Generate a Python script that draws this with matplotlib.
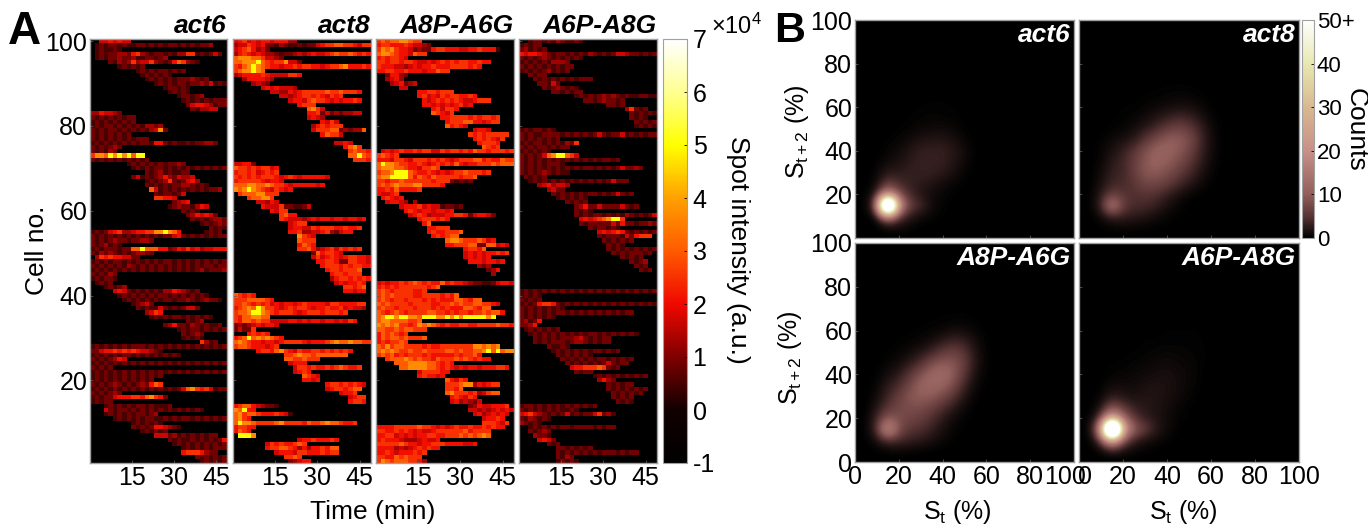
import matplotlib
matplotlib.use("Agg")
import matplotlib.pyplot as plt
import numpy as np
from matplotlib.colors import LinearSegmentedColormap
from matplotlib.transforms import ScaledTranslation

plt.rcParams["font.family"] = ["Liberation Sans", "DejaVu Sans"]
plt.rcParams["mathtext.fontset"] = "custom"
plt.rcParams["mathtext.rm"] = "Liberation Sans"
plt.rcParams["mathtext.it"] = "Liberation Sans"

W, H = 1368, 526

# one char per 1.5 min bin, top row is cell 100, "." = no spot, digit = index into digit_levels
digit_levels = [0, 0.5, 0.9, 1.3, 1.7, 2.1, 2.5, 3.0, 3.7, 5.0]

act6_rows = [
    "..4454544", ".12122121122121212212121223", ".121121", ".1212233256321221213366121242",
    ".1212232231122123", "....21323634463212576321", "......121212", "..........12121221212",
    "...........1212121", "............12121212223212", "..............1212122122324121",
    "................122121", ".................12121", "...................122123",
    "....................1212121222", ".....................2455431221", "......................213344",
    "3354432", "2121212122", "1212121212", "1212212121213323", "21212212121213482", "212121212",
    "2121212121222", "1212121212122155212112122332", "2121232", "212132", "688798989799", "2121212121212",
    "........1212121212232", ".........1212122121212121212121", "............2123121122",
    ".........24121235324334", "............121236212453", "............21212122332121",
    ".............7412121212121223", "..............2122124", "..............66554",
    "..................2345", ".................123221354", "....................2121",
    ".....................2354542", "......................21212332", "........................121232",
    "..........................2121", "12124563345566889875.....1212", "212121212121212122452121212122",
    "21212322122332", "2123121", "12122212277977755235464534455541", "21323212123322",
    ".3656554422", "121212212121212122121212121212", "212121213212121212121212122122",
    "121212121212121212121212312223", "212132", "121221", ".1212", "...12123",
    ".....4542121212133543212", "......12121212122121212121", ".......1212121212212232123221",
    ".........12342", "..........21211421212442", "............3465", ".............12121221212121",
    ".....................2123", "................2352213212112", "...................12122121212",
    "....................21232", "....................12121", "........................6312",
    "121212121222121212121212121212", "2245565656544321", "12121212212121212121", "21212354",
    "121212121212121212121212121212", "21212", "121212121212121212121212121212", "1212121212121212",
    "12121212121212", "2121232121232576", "121212121212121212124786564122", "2121232",
    "12122455566578652", "12122", "...121212122121112", "...4212212121212121212121",
    "...121212122123", ".....1212121221121212212121212", ".........1212121", ".........21212554321",
    "...........121212", "..............44423121212122", ".................2121121212125",
    "..................121212121212", "....................1212121222", "....................56665322",
    ".......................2121212", "........................121212",
]
act8_rows = [
    "45645455455533", "344654522132112122456677665466", "45675342", "356545433212234345445676676565",
    "78887764432", "778889765668442", "657898765545565665545667855565", "6788987", "345555654444665",
    "..3555543", "....3432", "......45454443", "........44335456666676676665", "..........44345665654656",
    "............4554676654545565", "..............5666", "................7864", "................556242323344",
    "................4543", "...................5464", ".................3565666", ".................466677232337",
    "...................57664", "..................", "......................4454",
    "........................5786", ".........................67665", ".........................77976",
    "..........................6665", "44552", "7665656645", "5665645656", "656565666545654555554",
    "56666654554", "77788778766545555545", "8789876546545", ".677788666", "...677886", ".....44354",
    "......54446221124", "........5466", "..........6755", "..........6544434545545545545",
    "............4566", "............4554465666556556", "............55633445632455",
    "..............8654", "..............7666", "..............5765", "..............66753456465656",
    ".................2756654", ".................46456545665543", "..................556652266554",
    "...................56665656655", "....................56656667", ".....................5665666",
    ".....................3566565655", "......................4545565", "........................66567",
    "........................55455", "76565", "666777765", "66765656454554565555466555566",
    "56787986654565665455655645443", "6778998765666545666566656", "65778877", "657767664444554545545545465",
    "2323454554", "24226", "...56565", "56797878765", "787655455456666545556787787766",
    "6776555456", ".....566578654655665656565", "...........66787767777777",
    "...........77667666", "............4555", ".............466565565676556",
    ".............4565", "...............7654", "...............5545", "....................566565654",
    "....................45665677", ".......................4556", ".........................4566",
    ".........................5665",
    "5677543221", "87955", "7867765556541", "7865", "798876666786666576678776556",
    "56655", "5765", ".9998", "..............455655565", ".......465655676",
    ".......5667765353556577", ".........45554665556566", "...........6676", "............23455",
]
a8p_rows = [
    "6767788766", "566555654432", "687865542322566555445565551", "78876554766", "5656654",
    "6656656654454565656655655", "65554434545565556666565", "5566556555455766", "..25532",
    "..3453", "...345234", ".....44", ".........55665666", ".........5645465665565",
    "..........545656565445666", "..........55454545645", "............564665", "............76546",
    "..............5566665656656", "...............566677554566", "...............75654",
    ".....................4554", "....................656566666", ".....................5656546",
    "......................56665", ".......................7656", ".454565565664465665657665666566",
    "67656", "555466546665656545666775655766", "798876655654565657545566676777",
    "78887765546676", "6778999765565454566766656", "7889999757657666665667", "665667666666566621212",
    "676787778866665", "5565755556", "54456", ".56545", "..45543.3", ".....45556454412212",
    "......56545545545", ".......4565344455665245542",
    ".........5666565", "..........57", "...........55666", "...........56556667", "............565677",
    "...............78876667645", "...............55666772277454", "...................56657",
    "...................4545455656", "...................454545", "....................55545545",
    "......................323", "........................235", ".........................3",
    "", "454556567656557565543221124554", "56565666666567", "67656666556", "676766665566665657",
    "67656656665656555776577", "767666656666556676766776654", "6766566656665656555776577",
    "7656765666677665656656676775", "78998998879998898989999989", "7887777667",
    "878786656878765655665566667665", "77667677666", "5767656", "57677676667", "5656676",
    "768677666656556666666887878", "787876676676666776766778979788", "67675656665655555656675",
    "..67778767665766676765655", "....7778888776565", ".....778888776565454554555665",
    ".........4666655", ".........565545", "...............75465", "...............666788354566",
    "...............6657", "...............786665634677", "................565465",
    "................4534324", "....................235445556", "....................44343454545",
    ".....................45345454", ".......................45565", ".......................666546",
    "5555666667665454565565565655", "6655656545445666666756666", "5566454545566556667676787",
    "56555433345445", "6666676554556665555445", "55553434565655", "55654555656", "6655767666",
    "68767776653", "656567654545543",
]
a6p_rows = [
    "..122121321121", "12122", "231212", "545543212212121321212443221212", "21212321212121",
    "12121213332", "212121212122", "12121231212", "..2122", "...2121212121222",
    "....22142", ".....21232121", ".......2212122", "............121212323212112211", "..............221232212",
    "...................2212", ".......................36212", "........................212121", "........................2121",
    ".........................21212", ".........................12121", "12122121", "212112222121212124212241212122",
    "212121212", "1212212121326", "21212212122", "1212121", "2121247899764", "2121212121212121212212",
    "2121212221", "212121212121212212121242232", "21212321211", ".21212", "..1212121212121212124222",
    "....3453443", "......3422", ".......212121212212124212",
    "........1212121", "..........21212", "............23522422224212",
    "............2121", "............212122121213212124", ".............4545678996",
    ".............21222224252212232", "...............2122121", ".................45456521212124",
    ".................212221425666", "..................2121212", "...................2121",
    "...................21212121212", "....................212122212", "......................21212",
    "........................2123", ".........................212", "..........................212",
    "", "", "", "", "121212121212121212121212121212", "12121", "21212", "121256652121212121212121212121",
    "2121212121", "2121212122121212121212122", "21212121", "23125", "2235", ".12121212",
    "..121212121212122121212121", "...21212122234212122", "...21212221233212122", "......21121",
    ".......121212121221212", "........21212121", ".........2121212122121212",
    "..........21212121242122", "...........45566676212", "............2122", "................121212121212",
    ".................3532", "...................212122", "...................212121212", "....................2121212",
    "....................21212", ".....................2121", "12212121212121212", "2121212121121", "456432121241212246231",
    "2132121", "32121", "..1212121221222212122", "..21232", "...3221", "....4542", "......212",
    "........22121212", "........212121212122212122", "........2132", "........12121",
]

# counts on a 5 % grid, rows St+2 = 0..70, columns St = 0..70
act6_counts = [
    [0] * 15,
    [0, 0, 0, 0.5, 1, 0.5, 0, 0, 0, 0, 0, 0, 0, 0, 0],
    [0, 0, 1, 14, 5, 2.5, 1, 0.5, 0.2, 0, 0, 0, 0, 0, 0],
    [0, 0.3, 7, 130, 20, 6, 4, 1, 0.4, 0, 0, 0, 0, 0, 0],
    [0, 0, 3, 18, 8, 4, 2, 1, 0.6, 0.2, 0, 0, 0, 0, 0],
    [0, 0, 1, 6, 4, 3, 2.5, 2, 1, 0.5, 0.2, 0, 0, 0, 0],
    [0, 0, 0.5, 2.5, 2.5, 3, 3, 3, 2.5, 1.5, 0.4, 0, 0, 0, 0],
    [0, 0, 0.2, 1, 1.5, 2.5, 3, 3, 3, 2, 0.8, 0.1, 0, 0, 0],
    [0, 0, 0, 0.5, 1, 2, 3, 3, 3, 2.2, 1.2, 0.1, 0, 0, 0],
    [0, 0, 0, 0.2, 0.5, 1, 1.8, 2, 2.2, 1.5, 0.5, 0.1, 0, 0, 0],
    [0, 0, 0, 0, 0.2, 0.4, 0.8, 1, 1, 0.8, 0.2, 0, 0, 0, 0],
    [0, 0, 0, 0, 0, 0.2, 0.3, 0.5, 0.4, 0.3, 0.1, 0.1, 0, 0, 0],
    [0, 0, 0, 0, 0, 0.1, 0.2, 0.3, 0.2, 0.2, 0.1, 0.1, 0.1, 0, 0],
    [0, 0, 0, 0, 0, 0, 0.1, 0.1, 0.2, 0.1, 0.2, 0.1, 0, 0, 0],
    [0, 0, 0, 0, 0, 0, 0, 0.1, 0.1, 0.1, 0.1, 0.1, 0, 0, 0],
]
act8_counts = [
    [0] * 15,
    [0, 0, 0.1, 0.4, 0.5, 0.5, 0.3, 0.2, 0.1, 0, 0, 0, 0, 0, 0],
    [0, 0, 1, 3, 3, 2.5, 2, 1.2, 0.5, 0.2, 0, 0, 0, 0, 0],
    [0, 0.1, 3, 16, 6, 4, 4, 3, 1.5, 0.6, 0.1, 0, 0, 0, 0],
    [0, 0, 2.5, 6, 5, 4.5, 5, 4.5, 3, 1.5, 0.5, 0.1, 0, 0, 0],
    [0, 0, 1.5, 3.5, 4, 5, 7, 7, 6, 4, 2.5, 1, 0.2, 0, 0],
    [0, 0, 1, 3, 3.5, 6, 9, 9.5, 8, 6, 4, 2, 0.5, 0, 0],
    [0, 0, 0.5, 2.5, 3.5, 6, 9, 11, 10, 8, 5.5, 3, 0.8, 0.1, 0],
    [0, 0, 0.5, 1.5, 3, 5, 8, 11, 11, 9.5, 7, 3.5, 1.2, 0.1, 0],
    [0, 0, 0.2, 1, 1.5, 2.5, 5, 7.5, 10, 10, 8, 4, 1.2, 0.1, 0],
    [0, 0, 0, 0.3, 0.5, 1.2, 2.5, 4, 6, 7, 6, 3.5, 1, 0.1, 0],
    [0, 0, 0, 0.1, 0.3, 0.5, 1, 2, 3, 4, 3.5, 2, 0.5, 0.1, 0],
    [0, 0, 0, 0.1, 0.2, 0.2, 0.4, 0.8, 1.2, 1.5, 1.5, 0.8, 0.2, 0, 0],
    [0, 0, 0, 0, 0.1, 0.1, 0.2, 0.3, 0.4, 0.6, 0.5, 0.3, 0.1, 0, 0],
    [0, 0, 0, 0, 0, 0, 0.1, 0.1, 0.2, 0.2, 0.2, 0.1, 0, 0.1, 0],
]
a8p_counts = [
    [0] * 15,
    [0, 0, 0.1, 0.3, 0.4, 0.4, 0.2, 0.1, 0, 0, 0, 0, 0, 0, 0],
    [0, 0.1, 1.5, 4, 4, 3, 2.5, 1.5, 0.8, 0.2, 0, 0, 0, 0, 0],
    [0, 0.2, 4, 22, 8, 5, 4.5, 3, 1.5, 0.5, 0.1, 0, 0, 0, 0],
    [0, 0.1, 3.5, 9, 8, 7, 6, 4.5, 2.5, 1, 0.3, 0, 0, 0, 0],
    [0, 0, 2, 5, 7, 8, 8, 6.5, 4.5, 2.5, 0.8, 0.1, 0, 0, 0],
    [0, 0, 1, 3.5, 6, 9, 10, 9.5, 7.5, 5, 2, 0.3, 0, 0, 0],
    [0, 0, 0.5, 2.5, 4, 7, 11, 12, 11, 7.5, 3.5, 0.8, 0.1, 0, 0],
    [0, 0, 0.2, 1.2, 2.5, 5, 8, 11.5, 13, 9.5, 5, 1.5, 0.2, 0, 0],
    [0, 0, 0.1, 0.5, 1, 2.5, 4.5, 7.5, 9.5, 9, 6, 2, 0.3, 0, 0],
    [0, 0, 0, 0.2, 0.4, 1, 2, 3.5, 5.5, 6.5, 5, 1.8, 0.3, 0, 0],
    [0, 0, 0, 0.1, 0.2, 0.3, 0.6, 1.2, 2.5, 3.5, 3, 1.2, 0.2, 0, 0],
    [0, 0, 0, 0, 0.1, 0.1, 0.2, 0.4, 0.6, 1.2, 1, 0.5, 0.1, 0, 0],
    [0, 0, 0, 0, 0, 0.1, 0.1, 0.1, 0.2, 0.3, 0.3, 0.2, 0, 0, 0],
    [0, 0, 0, 0.1, 0, 0, 0, 0.1, 0.1, 0.1, 0.1, 0, 0, 0, 0],
]
a6p_counts = [
    [0] * 15,
    [0, 0, 0.3, 1.5, 1, 0.5, 0.2, 0.1, 0, 0, 0, 0, 0, 0, 0],
    [0, 0.1, 5, 24, 8, 3, 1.5, 0.8, 0.3, 0, 0, 0, 0, 0, 0],
    [0, 0.6, 16, 145, 26, 10, 6, 2.5, 1, 0.2, 0, 0, 0, 0, 0],
    [0, 0.2, 5, 26, 12, 5, 3, 2, 1, 0.4, 0.1, 0, 0, 0, 0],
    [0, 0, 1.5, 8, 5, 3, 2.2, 1.8, 1.2, 0.6, 0.2, 0, 0, 0, 0],
    [0, 0, 0.5, 2.5, 2, 1.5, 2, 2, 1.5, 1, 0.4, 0.1, 0, 0, 0],
    [0, 0, 0.2, 1, 1, 1, 1.5, 1.8, 1.5, 1.2, 0.6, 0.2, 0, 0, 0],
    [0, 0, 0, 0.4, 0.5, 0.8, 1, 1.2, 1.5, 1, 0.8, 0.2, 0, 0, 0],
    [0, 0, 0, 0.2, 0.2, 0.4, 0.6, 0.8, 1, 0.8, 0.6, 0.3, 0.1, 0, 0],
    [0, 0, 0, 0.1, 0.1, 0.2, 0.3, 0.5, 0.6, 0.5, 0.4, 0.3, 0.1, 0, 0],
    [0, 0, 0, 0, 0, 0.1, 0.2, 0.2, 0.3, 0.3, 0.3, 0.2, 0.1, 0, 0],
    [0, 0, 0, 0, 0, 0, 0.1, 0.1, 0.2, 0.2, 0.2, 0.2, 0.1, 0, 0],
    [0, 0, 0, 0, 0, 0, 0, 0.1, 0.1, 0.1, 0.1, 0.1, 0.1, 0, 0],
    [0, 0, 0, 0, 0, 0, 0, 0, 0.1, 0, 0.1, 0.1, 0, 0, 0],
]

strains = ["act6", "act8", "A8P-A6G", "A6P-A8G"]
all_rows = [act6_rows, act8_rows, a8p_rows, a6p_rows]
all_counts = [act6_counts, act8_counts, a8p_counts, a6p_counts]
time_ticks = [15, 30, 45]
cell_ticks = [20, 40, 60, 80, 100]
intensity_ticks = [-1, 0, 1, 2, 3, 4, 5, 6, 7]
pct_ticks = [0, 20, 40, 60, 80, 100]
count_ticks = [0, 10, 20, 30, 40, 50]
count_labels = ["0", "10", "20", "30", "40", "50+"]

spot_cmap = LinearSegmentedColormap.from_list("spot", [
    (0, "#000000"), (1 / 8, "#120000"), (2 / 8, "#800000"), (3 / 8, "#f00800"), (4 / 8, "#ff5a00"),
    (5 / 8, "#ffa000"), (6 / 8, "#ffff00"), (7 / 8, "#ffff90"), (1, "#ffffff")])
count_cmap = LinearSegmentedColormap.from_list("counts", [
    (0, "#000000"), (0.1, "#5a3535"), (0.2, "#925f5c"), (0.4, "#c89088"), (0.6, "#d8b890"),
    (0.8, "#e8e8b0"), (1, "#ffffff")])
GREY = "#a0a0a0"
FS = 18


def add_ax(x0, y0, x1, y1):
    return fig.add_axes((x0 / W, 1 - y1 / H, (x1 - x0) / W, (y1 - y0) / H))


def decode(rows):
    out = np.full((100, 30), np.nan)
    for i, row in enumerate(rows[:100]):
        for j, c in enumerate(row[:30]):
            if c != ".":
                out[i, j] = digit_levels[int(c)]
    return out


def style(ax):
    for s in ax.spines.values():
        s.set_color(GREY)
        s.set_linewidth(1.0)
    ax.tick_params(direction="in", length=2, width=0.6, color="#555555", labelsize=FS, pad=2)


fig = plt.figure(figsize=(W / 100, H / 100), dpi=100)

a_boxes = [(90, 227), (233, 371), (376, 514), (519, 657)]
cm = spot_cmap.copy()
cm.set_bad("black")
im = None
for k, (x0, x1) in enumerate(a_boxes):
    ax = add_ax(x0, 39, x1, 463)
    im = ax.imshow(decode(all_rows[k]), cmap=cm, vmin=-1, vmax=7, aspect="auto",
                   extent=(0, 49, 0.5, 100.5), interpolation="nearest")
    ax.set_xticks(time_ticks)
    ax.set_yticks(cell_ticks)
    if k > 0:
        ax.set_yticklabels([])
    style(ax)
    ax.text(1, 1.002, strains[k], transform=ax.transAxes, ha="right", va="bottom",
            fontsize=19, fontweight="bold", fontstyle="italic")

cax = add_ax(663, 39, 687, 463)
cb = fig.colorbar(im, cax=cax, ticks=intensity_ticks)
cb.outline.set_edgecolor(GREY)
cax.tick_params(direction="in", length=2, width=0.6, labelsize=FS, pad=4)
cax.set_yticklabels([str(t) for t in intensity_ticks])

fig.text(37 / W, 1 - 250 / H, "Cell no.", rotation=90, ha="center", va="center", fontsize=19)
fig.text(373 / W, 1 - 512 / H, "Time (min)", ha="center", va="center", fontsize=19)
fig.text(738 / W, 1 - 250 / H, "Spot intensity (a.u.)", rotation=270, ha="center", va="center", fontsize=19)
fig.text(737 / W, 1 - 26 / H, r"$\times$10$^{4}$", ha="center", va="center", fontsize=17)
fig.text(8 / W, 1 - 44 / H, "A", fontsize=33, fontweight="bold", ha="left", va="baseline")
fig.text(774 / W, 1 - 42 / H, "B", fontsize=31, fontweight="bold", ha="left", va="baseline")

b_boxes = [(855, 20, 1074, 238), (1079, 20, 1299, 238), (855, 243, 1074, 462), (1079, 243, 1299, 462)]
imb = None
for k, box in enumerate(b_boxes):
    ax = add_ax(*box)
    grid = np.pad(np.array(all_counts[k], dtype=float), ((0, 6), (0, 6)))
    imb = ax.imshow(grid, cmap=count_cmap, vmin=0, vmax=50, origin="lower", aspect="auto",
                    extent=(-2.5, 102.5, -2.5, 102.5), interpolation="bicubic")
    ax.set_xlim(0, 100)
    ax.set_ylim(0, 100)
    ax.set_xticks(pct_ticks)
    ax.set_yticks(pct_ticks)
    if k < 2:
        ax.set_xticklabels([])
    if k % 2 == 1:
        ax.set_yticklabels([])
    style(ax)
    if k == 0:
        ax.get_yticklabels()[0].set_visible(False)
    if k == 2:
        # reference squeezes "100" and the next "0" together
        lab = ax.get_xticklabels()[-1]
        lab.set_transform(lab.get_transform() + ScaledTranslation(-0.09, 0, fig.dpi_scale_trans))
    if k == 3:
        lab = ax.get_xticklabels()[0]
        lab.set_transform(lab.get_transform() + ScaledTranslation(0.06, 0, fig.dpi_scale_trans))
    ax.text(0.985, 0.985, strains[k], transform=ax.transAxes, ha="right", va="top", color="white",
            fontsize=19, fontweight="bold", fontstyle="italic")

fig.text(797 / W, 1 - 132 / H, r"S$_{\mathrm{t+2}}$ (%)", rotation=90, ha="center", va="center", fontsize=18)
fig.text(790 / W, 1 - 358 / H, r"S$_{\mathrm{t+2}}$ (%)", rotation=90, ha="center", va="center", fontsize=18)
fig.text(957 / W, 1 - 512 / H, r"S$_{\mathrm{t}}$ (%)", ha="center", va="center", fontsize=18)
fig.text(1183 / W, 1 - 512 / H, r"S$_{\mathrm{t}}$ (%)", ha="center", va="center", fontsize=18)

cax2 = add_ax(1302, 20, 1314, 238)
cb2 = fig.colorbar(imb, cax=cax2, ticks=count_ticks)
cb2.outline.set_edgecolor(GREY)
cax2.set_yticklabels(count_labels)
cax2.tick_params(direction="in", length=2, width=0.6, labelsize=16, pad=2)
fig.text(1356 / W, 1 - 130 / H, "Counts", rotation=270, ha="center", va="center", fontsize=19)

fig.savefig("out.png", dpi=100)
